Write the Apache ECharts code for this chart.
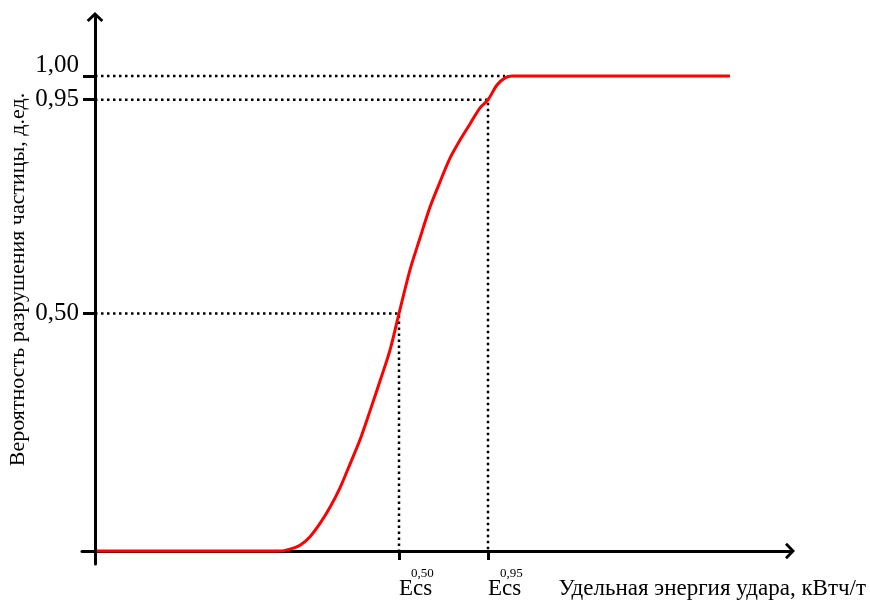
<!DOCTYPE html>
<html>
<head>
<meta charset="utf-8">
<script src="https://cdn.jsdelivr.net/npm/echarts@6/dist/echarts.min.js"></script>
<style>
  html, body { margin: 0; padding: 0; background: #fff; }
  #chart { width: 870px; height: 601px; }
</style>
</head>
<body>
<div id="chart"></div>
<script>
// Breakage probability curve (energy, probability)
const energy = [0.02, 1.85, 1.95, 2.05, 2.15, 2.25, 2.35, 2.45, 2.55, 2.65, 2.75, 2.85, 2.95,
                3.04, 3.15, 3.25, 3.35, 3.45, 3.55, 3.65, 3.75, 3.85, 3.93, 4.02, 4.10, 4.17, 6.35];
const probability = [0, 0, 0.004, 0.012, 0.03, 0.058, 0.092, 0.133, 0.183, 0.234, 0.295, 0.358, 0.423,
                     0.50, 0.592, 0.659, 0.724, 0.777, 0.827, 0.865, 0.899, 0.933, 0.95, 0.981, 0.996, 1.0, 1.0];

// Characteristic energies Ecs^0,50 and Ecs^0,95
const ecsLevels = [0.50, 0.95];
const ecsEnergy = [3.04, 3.93];
const ecsSup = ['0,50', '0,95'];

// Full-breakage level and where the curve reaches it
const fullLevel = 1.00;
const fullEnergy = 4.10;

// Y tick values and labels
const yTickValues = [0.50, 0.95, 1.00];
const yTickLabels = ['0,50', '0,95', '1,00'];

const xName = 'Удельная энергия удара, кВтч/т';
const yName = 'Вероятность разрушения частицы, д.ед.';

const chevron = 'path://M50,0 L100,48 L88,60 L50,24 L12,60 L0,48 Z';
const FONT = 'Liberation Serif';

const curve = energy.map((e, i) => [e, probability[i]]);

const dotted = {
  type: 'line',
  symbol: 'none',
  silent: true,
  z: 1,
  lineStyle: { color: '#000', width: 2.5, type: [2.5, 3.5], cap: 'butt' }
};

const guides = ecsLevels.map((p, i) => Object.assign({}, dotted, {
  data: [[0, p], [ecsEnergy[i], p], [ecsEnergy[i], 0]]
}));
guides.push(Object.assign({}, dotted, { data: [[0, fullLevel], [fullEnergy, fullLevel]] }));

const chart = echarts.init(document.getElementById('chart'), null, { renderer: 'canvas' });
chart.setOption({
  animation: false,
  backgroundColor: '#fff',
  textStyle: { fontFamily: FONT, color: '#000' },
  grid: { left: 82, right: 80, top: 17, bottom: 37, containLabel: false, outerBoundsMode: 'none' },
  xAxis: {
    type: 'value',
    min: -0.13,
    max: 6.95,
    name: xName,
    nameLocation: 'end',
    nameGap: 76,
    nameMoveOverlap: false,
    nameTextStyle: { fontFamily: FONT, fontSize: 23, color: '#000', align: 'right', verticalAlign: 'top', padding: [26, 0, 0, 0] },
    axisLine: {
      onZero: true,
      symbol: ['none', chevron],
      symbolSize: [17, 10],
      lineStyle: { color: '#000', width: 3 }
    },
    axisTick: { show: true, customValues: ecsEnergy, length: 9, inside: false, lineStyle: { color: '#000', width: 3 } },
    axisLabel: {
      customValues: ecsEnergy,
      margin: 4,
      align: 'left',
      hideOverlap: false,
      formatter: function (v) {
        const i = ecsEnergy.indexOf(v);
        return '{sup|' + (i >= 0 ? ecsSup[i] : '') + '}\n{main|Ecs}';
      },
      rich: {
        sup: { fontFamily: FONT, fontSize: 13, lineHeight: 11, color: '#000', padding: [0, 0, 0, 12] },
        main: { fontFamily: FONT, fontSize: 23, lineHeight: 20, color: '#000' }
      }
    },
    splitLine: { show: false }
  },
  yAxis: {
    type: 'value',
    min: -0.0274,
    max: 1.1242,
    name: yName,
    nameLocation: 'middle',
    nameGap: 53,
    nameMoveOverlap: false,
    nameRotate: 90,
    nameTextStyle: { fontFamily: FONT, fontSize: 22, color: '#000', padding: [0, 0, 0, 22] },
    axisLine: {
      onZero: true,
      symbol: ['none', chevron],
      symbolSize: [17, 10],
      lineStyle: { color: '#000', width: 3 }
    },
    axisTick: { show: true, customValues: yTickValues, length: 12, inside: false, lineStyle: { color: '#000', width: 3 } },
    axisLabel: {
      customValues: yTickValues,
      margin: 3,
      hideOverlap: false,
      formatter: function (v) {
        const i = yTickValues.indexOf(v);
        if (i < 0) return '';
        // the top label sits slightly above its tick
        return (v === fullLevel ? '{up|' : '{lab|') + yTickLabels[i] + '}';
      },
      rich: {
        lab: { fontFamily: FONT, fontSize: 25, color: '#000' },
        up: { fontFamily: FONT, fontSize: 25, color: '#000', padding: [0, 0, 22, 0] }
      }
    },
    splitLine: { show: false }
  },
  series: guides.concat([{
    type: 'line',
    data: curve,
    symbol: 'none',
    smooth: 0.3,
    z: 3,
    lineStyle: { color: '#ff0000', width: 3 }
  }])
});
</script>
</body>
</html>
